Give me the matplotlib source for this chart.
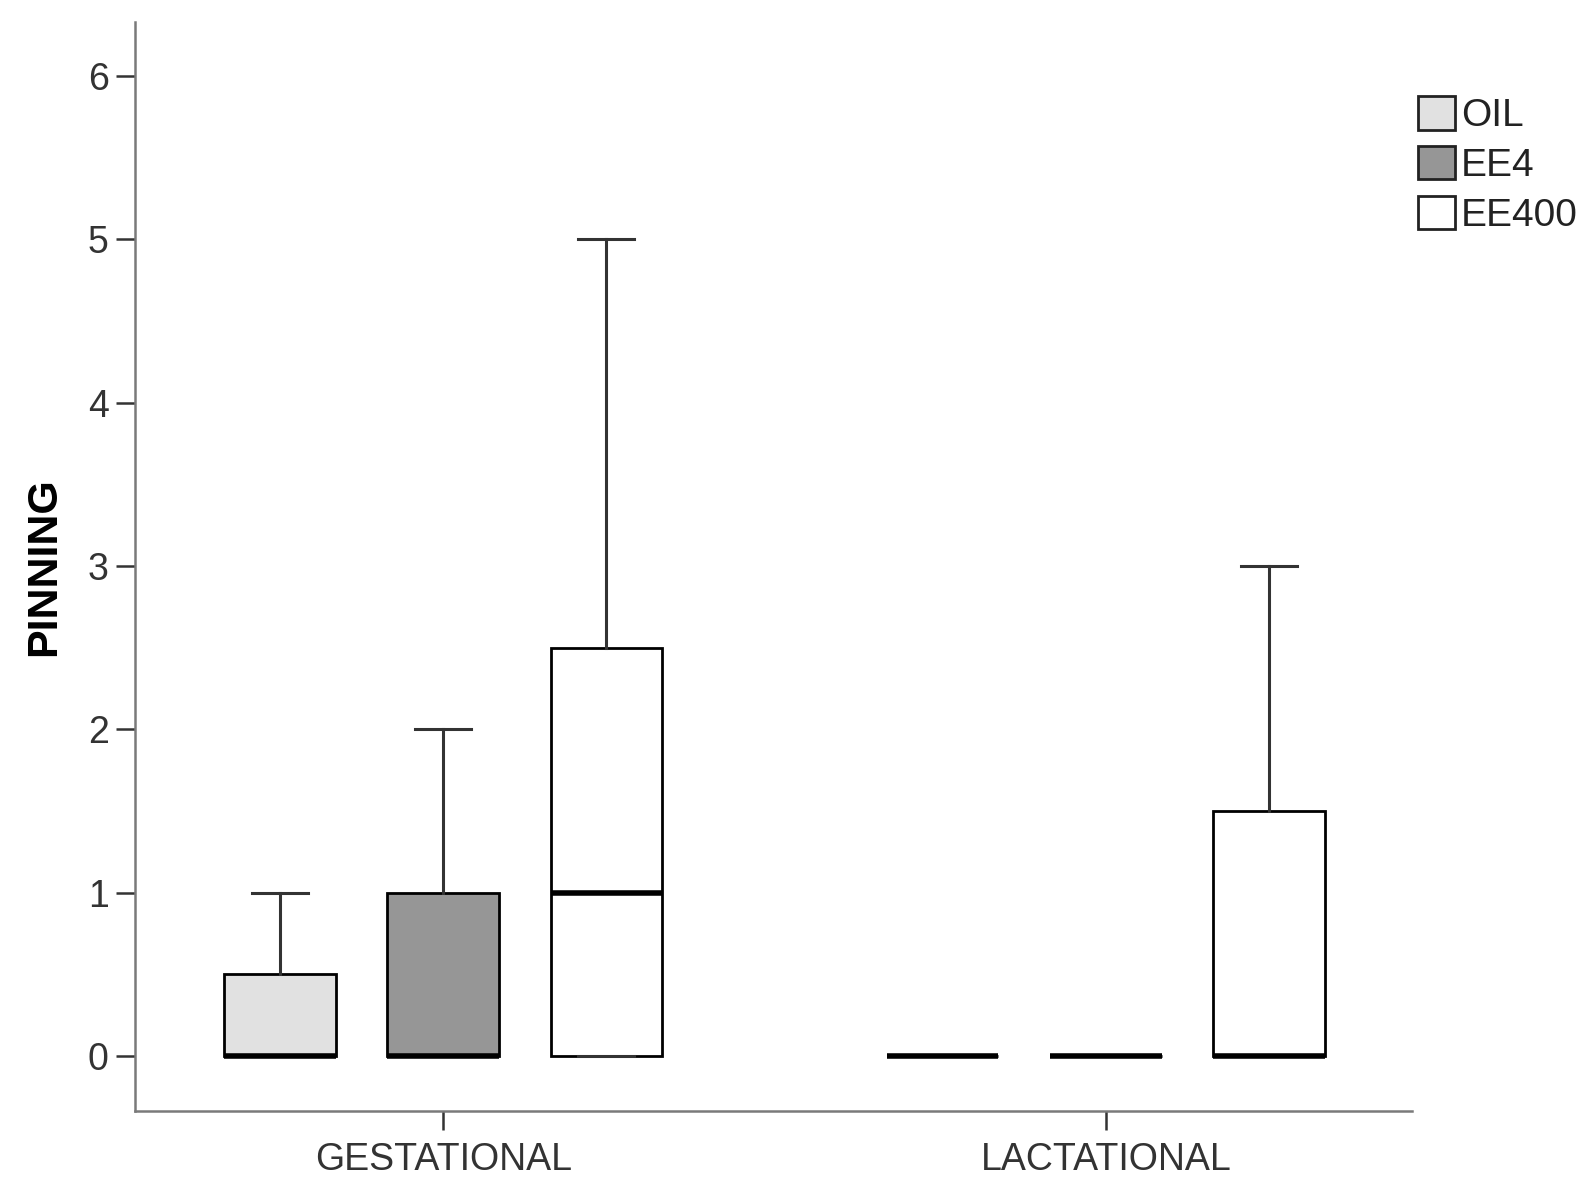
import matplotlib
matplotlib.use("Agg")
import matplotlib.pyplot as plt
from matplotlib.patches import Patch

plt.rcParams['font.family'] = ['Liberation Sans', 'DejaVu Sans']

groups = ["GESTATIONAL", "LACTATIONAL"]
treatments = ["OIL", "EE4", "EE400"]
colors = ["#e1e1e1", "#969696", "#ffffff"]

# per group, per treatment box statistics
q1 = [[0, 0, 0], [0, 0, 0]]
med = [[0, 0, 1], [0, 0, 0]]
q3 = [[0.5, 1, 2.5], [0, 0, 1.5]]
whislo = [[0, 0, 0], [0, 0, 0]]
whishi = [[1, 2, 5], [0, 0, 3]]

yticks = [0, 1, 2, 3, 4, 5, 6]

fig = plt.figure(figsize=(15.87, 11.83), dpi=100)
ax = fig.add_axes([135/1587, 1 - 1111/1183, (1412-135)/1587, (1111-22)/1183])

offset = 0.246
width = 0.168
for gi in range(len(groups)):
    for ti in range(len(treatments)):
        stats = [dict(med=med[gi][ti], q1=q1[gi][ti], q3=q3[gi][ti],
                      whislo=whislo[gi][ti], whishi=whishi[gi][ti], fliers=[])]
        pos = gi + (ti - 1) * offset
        show_w = whishi[gi][ti] > q3[gi][ti]
        ax.bxp(stats, positions=[pos], widths=width, patch_artist=True,
               showfliers=False, showcaps=show_w, capwidths=width/2,
               boxprops=dict(facecolor=colors[ti], edgecolor="black", linewidth=2.0),
               medianprops=dict(color="black", linewidth=4.0, solid_capstyle="butt"),
               whiskerprops=dict(color="#333333", linewidth=2.2),
               capprops=dict(color="#333333", linewidth=2.2),
               manage_ticks=False)

ax.set_xlim(-0.465, 1.462)
ax.set_ylim(-0.337, 6.33)
ax.set_xticks([0, 1])
ax.set_xticklabels(groups)
ax.set_yticks(yticks)
ax.set_yticklabels([str(t) for t in yticks])

for s in ["top", "right"]:
    ax.spines[s].set_visible(False)
for s in ["left", "bottom"]:
    ax.spines[s].set_color("#7a7a7a")
    ax.spines[s].set_linewidth(1.8)

ax.tick_params(axis="both", direction="out", length=14, width=1.8, color="#333333",
               labelsize=27, labelcolor="#333333")
ax.tick_params(axis="y", pad=5)
ax.tick_params(axis="x", pad=8)

ax.set_ylabel("PINNING", fontsize=31, fontweight="bold", labelpad=17)

handles = [Patch(facecolor=c, edgecolor="#222222", linewidth=2.0) for c in colors]
fig.legend(handles, treatments, loc="upper left",
           bbox_to_anchor=(1418/1587, 1 - 96/1183), frameon=False,
           fontsize=28, handlelength=0.95, handleheight=0.95,
           handletextpad=0.15, labelspacing=0.3, borderpad=0, borderaxespad=0,
           labelcolor="#222222")

fig.savefig("out.png", dpi=100, facecolor="white")
